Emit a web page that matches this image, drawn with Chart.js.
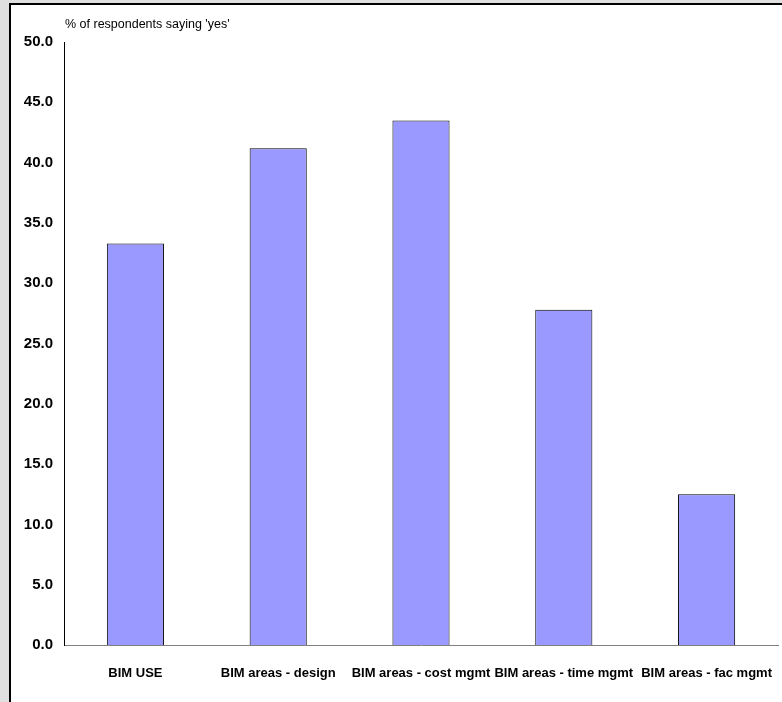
<!DOCTYPE html>
<html>
<head>
<meta charset="utf-8">
<script src="https://cdn.jsdelivr.net/npm/chart.js@4/dist/chart.umd.min.js"></script>
<style>
  html, body { margin: 0; padding: 0; background: #e0e0e0; }
  body { width: 782px; height: 702px; overflow: hidden; position: relative; }
  #frame {
    position: absolute; left: 9px; top: 3px;
    width: 771px; height: 697px;
    border-left: 2px solid #000; border-top: 2px solid #000;
    background: #fff;
  }
  #chart { display: block; }
</style>
</head>
<body>
<div id="frame"><canvas id="chart" width="771" height="697"></canvas></div>
<script>
// Survey results: share of respondents answering "yes"
const categories = [
  'BIM USE',
  'BIM areas - design',
  'BIM areas - cost mgmt',
  'BIM areas - time mgmt',
  'BIM areas - fac mgmt'
];
const yesShare = [33.3, 41.2, 43.5, 27.8, 12.5];
const axisTitle = "% of respondents saying 'yes'";
const yMin = 0, yMax = 50, yStep = 5;

const FONT = "'Liberation Sans', Arial, Helvetica, sans-serif";

// axis caption sits above the top of the value axis
const axisCaption = {
  id: 'axisCaption',
  afterDraw(chart) {
    const { ctx, chartArea } = chart;
    ctx.save();
    ctx.font = '12.5px ' + FONT;
    ctx.fillStyle = '#000';
    ctx.textAlign = 'left';
    ctx.textBaseline = 'middle';
    ctx.fillText(axisTitle, chartArea.left + 1, chartArea.top - 17);
    ctx.restore();
  }
};

new Chart(document.getElementById('chart'), {
  type: 'bar',
  data: {
    labels: categories,
    datasets: [{
      data: yesShare,
      backgroundColor: '#9999ff',
      borderColor: '#000',
      borderWidth: 1,
      borderSkipped: 'bottom',
      barPercentage: 0.4,
      categoryPercentage: 1.0
    }]
  },
  options: {
    responsive: false,
    animation: false,
    events: [],
    layout: { padding: { top: 37, right: 4, left: 0, bottom: 0 } },
    plugins: {
      legend: { display: false },
      tooltip: { enabled: false }
    },
    scales: {
      x: {
        grid: { display: false, drawTicks: false },
        border: { display: true, color: '#808080', width: 1 },
        ticks: {
          color: '#000',
          padding: 2,
          maxRotation: 0,
          autoSkip: false,
          // tall line box drops the category names well below the axis
          font: { family: FONT, size: 13, weight: 'bold', lineHeight: 4.1 }
        },
        afterFit(scale) { scale.height = 57; }
      },
      y: {
        min: yMin,
        max: yMax,
        grid: { display: false, drawTicks: false },
        border: { display: true, color: '#000', width: 1 },
        ticks: {
          stepSize: yStep,
          color: '#000',
          padding: 11,
          font: { family: FONT, size: 15, weight: 'bold' },
          callback: v => Number(v).toFixed(1)
        },
        afterFit(scale) { scale.width = 53; }
      }
    }
  },
  plugins: [axisCaption]
});
</script>
</body>
</html>
